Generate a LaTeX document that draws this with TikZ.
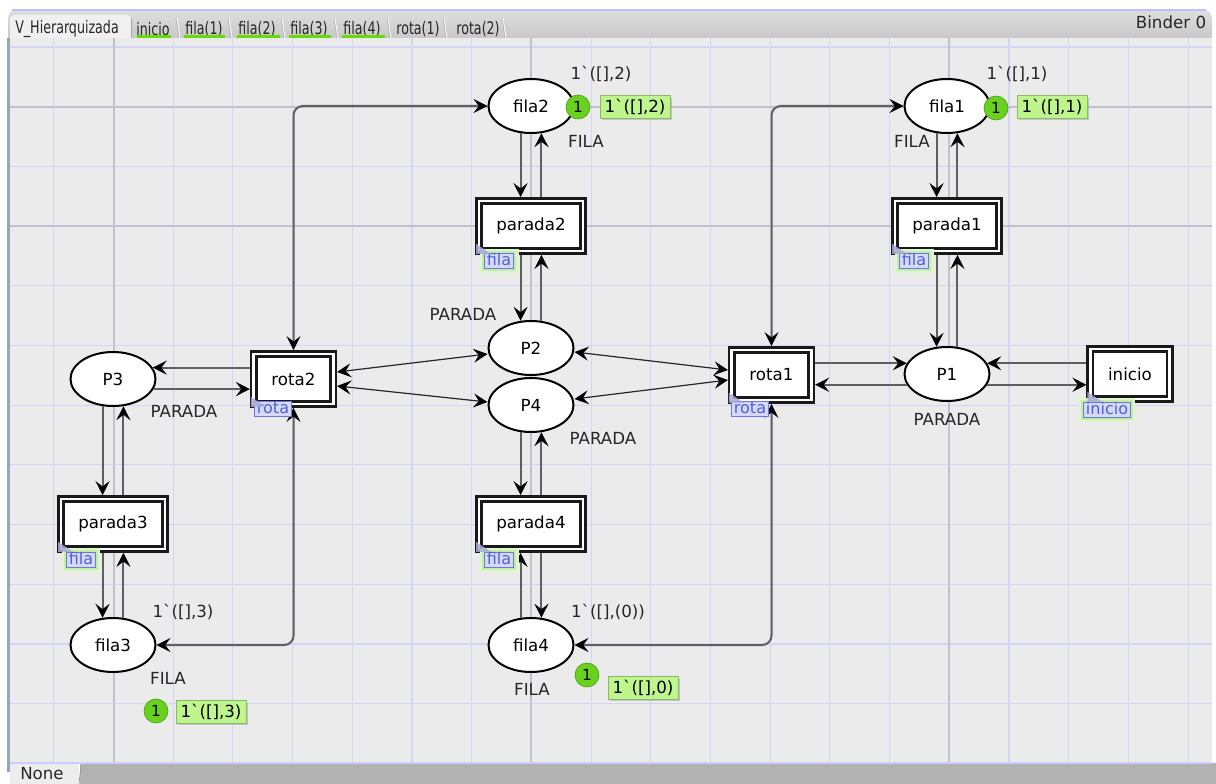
\documentclass[tikz,border=0pt]{standalone}
\usepackage{fontspec}
\setmainfont{DejaVu Sans}
\newfontfamily\dv{DejaVu Sans}
\newfontfamily\tabfont{DejaVu Sans}[FakeStretch=0.73]
\usetikzlibrary{shapes.geometric,arrows.meta,calc,shadows}
\definecolor{canvas}{RGB}{235,235,235}
\definecolor{gridc}{RGB}{212,212,246}
\definecolor{guide}{RGB}{192,192,206}
\definecolor{arcc}{RGB}{95,95,95}
\definecolor{tokg}{RGB}{105,210,30}
\definecolor{tokbox}{RGB}{190,245,140}
\definecolor{tagfill}{RGB}{214,218,250}
\definecolor{tagdraw}{RGB}{105,120,228}
\definecolor{tagtext}{RGB}{80,95,215}
\definecolor{glow}{RGB}{196,238,165}
\definecolor{corner}{RGB}{170,170,215}
\definecolor{tabtop}{RGB}{222,222,222}
\definecolor{tabbot}{RGB}{196,196,196}
\definecolor{uline}{RGB}{102,220,0}
\definecolor{leftbar}{RGB}{150,168,184}
\tikzset{
  hd/.tip={Stealth[length=10.5pt,width=10.5pt,inset=4pt,color=black]},
  nodefont/.style={font=\dv\fontsize{12.5}{14}\selectfont},
  place/.style={ellipse, draw=black, line width=1.5pt, fill=white,
    minimum width=63.75pt, minimum height=40.5pt, inner sep=0pt, nodefont},
  trans/.style={rectangle, draw=black!90, line width=1.8pt, double=white,
    double distance=2.2pt, fill=white, minimum height=37.5pt, inner sep=0pt,
    outer sep=2.9pt, nodefont},
  parada/.style={trans, minimum width=78pt},
  rota/.style={trans, minimum width=59.5pt},
  arc/.style={draw=arcc, line width=1.5pt, -hd},
  arcb/.style={draw=arcc, line width=1.5pt, hd-hd, rounded corners=7pt},
  thinarc/.style={draw=black!85, line width=0.9pt, hd-hd},
  lab/.style={nodefont, text=black!85, inner sep=0pt},
  tok/.style={circle, fill=tokg, draw=tokg!75!black, line width=0.5pt,
    minimum size=18pt, inner sep=0pt, font=\dv\fontsize{11.5}{12}\selectfont},
  tbox/.style={fill=tokbox, draw=tokbox!75!black, line width=0.4pt,
    minimum height=17pt, inner xsep=3.5pt, inner ysep=0pt, nodefont,
    drop shadow={shadow xshift=1.5pt, shadow yshift=-1.5pt, opacity=0.35}},
  tagn/.style={draw=tagdraw, fill=tagfill, text=tagtext, line width=0.8pt,
    inner xsep=2pt, inner ysep=0.5pt, text height=8.6pt, text depth=1.6pt,
    font=\dv\fontsize{12}{13}\selectfont},
  glowing/.style={preaction={draw=glow!55, line width=7pt},
    preaction={draw=glow, line width=3.5pt}},
  tabtxt/.style={font=\tabfont\fontsize{13}{15}\selectfont, text=black!85, inner sep=0pt},
}
\begin{document}
\begin{tikzpicture}[x=0.75pt,y=-0.75pt]
\useasboundingbox (0,0) rectangle (1216,784);
\fill[white] (0,0) rectangle (1216,784);
% tab bar
\shade[top color=tabtop, bottom color=tabbot, rounded corners=6pt] (8,10) rectangle (1212,44);
\draw[blue!25!white, line width=0.8pt] (12,10) -- (1206,10);
\fill[white!94!black, rounded corners=3pt] (10,15) rectangle (131,44);
\draw[black!35, line width=0.6pt] (131,38) -- (131,18);
\foreach \sx in {179,231,284,337,390,446,505} {
  \draw[black!30, line width=0.6pt] (\sx,38) -- (\sx-3,18);
  \draw[white, line width=0.6pt] (\sx+1,38) -- (\sx-2,18);
}
\node[tabtxt] (tab0) at (67,29) {V\_Hierarquizada};
\node[tabtxt] (tab1) at (153,29) {inicio};
\node[tabtxt] (tab2) at (204,29) {fila(1)};
\node[tabtxt] (tab3) at (257,29) {fila(2)};
\node[tabtxt] (tab4) at (309,29) {fila(3)};
\node[tabtxt] (tab5) at (362,29) {fila(4)};
\node[tabtxt] (tab6) at (418,29) {rota(1)};
\node[tabtxt] (tab7) at (478,29) {rota(2)};
\foreach \ua/\ub in {137/171,184/225,237/280,289/331,342/385}
  \draw[uline, line width=1.8pt] (\ua,36.5) -- (\ub,36.5);
\node[font=\dv\fontsize{12.5}{14}\selectfont, text=black!85, inner sep=0pt] (binder) at (1171,22) {Binder 0};
% canvas
\fill[canvas] (10,38) rectangle (1212,763);
\begin{scope}
\clip (10,38) rectangle (1212,763);
\foreach \k in {0,...,19}
  \draw[gridc, line width=0.8pt] ({53.8+59.7*\k},38) -- ({53.8+59.7*\k},763);
\foreach \k in {0,...,11}
  \draw[gridc, line width=0.8pt] (10,{47+59.7*\k}) -- (1212,{47+59.7*\k});
\foreach \gx in {113.5,531.4,949.3}
  \draw[guide, line width=1.5pt] (\gx,38) -- (\gx,763);
\foreach \gy in {106.7,226.1}
  \draw[guide, line width=1.5pt] (10,\gy) -- (1212,\gy);
\end{scope}
\fill[leftbar] (7,38) rectangle (10,772);
% bottom bar
\fill[black!30] (80,763) rectangle (1216,784);
\draw[blue!20!white, line width=0.8pt] (10,763) -- (1212,763);
\fill[white!93!black] (10,764) rectangle (79,784);
\draw[black!40, line width=0.6pt] (79,784) -- (81,766);
\node[font=\dv\fontsize{12.5}{14}\selectfont, text=black!85, inner sep=0pt] (none) at (42,774) {None};

% places
\node[place] (fila2) at (531,106) {fila2};
\node[place] (fila1) at (947,106) {fila1};
\node[place] (P2) at (531,348) {P2};
\node[place] (P4) at (531,405) {P4};
\node[place] (P3) at (113,379) {P3};
\node[place] (P1) at (947,374) {P1};
\node[place] (fila3) at (113,645) {fila3};
\node[place] (fila4) at (531,645) {fila4};
% transitions
\node[parada] (parada2) at (531,226) {parada2};
\node[parada] (parada1) at (947,226) {parada1};
\node[parada] (parada3) at (113,524) {parada3};
\node[parada] (parada4) at (531,524) {parada4};
\node[rota] (rota2) at (293.5,379) {rota2};
\node[rota] (rota1) at (771.5,375) {rota1};
\node[rota] (inicio) at (1130,374) {inicio};

% vertical arc pairs
\draw[arc] (fila2.-111) -- (fila2.-111 |- parada2.north);
\draw[arc] (fila2.-69 |- parada2.north) -- (fila2.-69);
\draw[arc] (P2.111 |- parada2.south) -- (P2.111);
\draw[arc] (P2.69) -- (P2.69 |- parada2.south);
\draw[arc] (fila1.-111) -- (fila1.-111 |- parada1.north);
\draw[arc] (fila1.-69 |- parada1.north) -- (fila1.-69);
\draw[arc] (P1.111 |- parada1.south) -- (P1.111);
\draw[arc] (P1.69) -- (P1.69 |- parada1.south);
\draw[arc] (P3.-111) -- (P3.-111 |- parada3.north);
\draw[arc] (P3.-69 |- parada3.north) -- (P3.-69);
\draw[arc] (fila3.111 |- parada3.south) -- (fila3.111);
\draw[arc] (fila3.69) -- (fila3.69 |- parada3.south);
\draw[arc] (P4.-111) -- (P4.-111 |- parada4.north);
\draw[arc] (P4.-69 |- parada4.north) -- (P4.-69);
\draw[arc] (fila4.111) -- (fila4.111 |- parada4.south);
\draw[arc] (fila4.69 |- parada4.south) -- (fila4.69);
% horizontal arc pairs
\draw[arc] (rota2.west |- P3.16) -- (P3.16);
\draw[arc] (P3.-14) -- (rota2.west |- P3.-14);
\draw[arc] (rota1.east |- P1.165) -- (P1.165);
\draw[arc] (P1.195) -- (rota1.east |- P1.195);
\draw[arc] (inicio.west |- P1.15) -- (P1.15);
\draw[arc] (P1.-15) -- (inicio.west |- P1.-15);
% diagonal arcs
\draw[thinarc] ([shift={(0,-7)}]rota2.east) -- ([shift={(0,6)}]P2.west);
\draw[thinarc] ([shift={(0,7)}]rota2.east) -- ([shift={(0,-3)}]P4.west);
\draw[thinarc] ([shift={(0,4)}]P2.east) -- ([shift={(0,-5)}]rota1.west);
\draw[thinarc] ([shift={(0,-6)}]P4.east) -- ([shift={(0,5)}]rota1.west);
% routed arcs
\draw[arcb] (rota2.north) |- (fila2.west);
\draw[arcb] (rota2.south) |- (fila3.east);
\draw[arcb] (rota1.north) |- (fila1.west);
\draw[arcb] (rota1.south) |- (fila4.east);

% tags
\node[tagn, glowing] (tg2) at (499,261) {fila};
\node[tagn, glowing] (tg1) at (914,261) {fila};
\node[tagn, glowing] (tg3) at (81,560) {fila};
\node[tagn, glowing] (tg4) at (499,560) {fila};
\node[tagn] (tr2) at (273,409) {rota};
\node[tagn] (tr1) at (750,409) {rota};
\node[tagn, glowing] (ti) at (1107,410) {inicio};
% folded corner marks of the substitution transitions
\foreach \t in {parada2,parada1,parada3,parada4,rota2,rota1,inicio}
  \fill[corner, opacity=0.85] ([shift={(1,-11)}]\t.south west) -- ([shift={(1,-1)}]\t.south west) -- ([shift={(16,-1)}]\t.south west) -- cycle;

% labels
\node[lab] (m2) at (601,74) {1`([],2)};
\node[lab] (m1) at (1017,74) {1`([],1)};
\node[lab] (m3) at (183,612) {1`([],3)};
\node[lab] (m4) at (608,612) {1`([],(0))};
\node[lab] (f2) at (586,141) {FILA};
\node[lab] (f1) at (912,141) {FILA};
\node[lab] (f3) at (168,678) {FILA};
\node[lab] (f4) at (532,689) {FILA};
\node[lab] (pp2) at (463,314) {PARADA};
\node[lab] (pp3) at (184,411) {PARADA};
\node[lab] (pp4) at (603,438) {PARADA};
\node[lab] (pp1) at (947,419) {PARADA};

% tokens
\node[tbox] (b2) at (635,107) {1`([],2)};
\node[tok] (t2) at (578,107) {1};
\node[tbox] (b1) at (1052,107) {1`([],1)};
\node[tok] (t1) at (996,108) {1};
\node[tbox] (b3) at (211,712) {1`([],3)};
\node[tok] (t3) at (156,711) {1};
\node[tbox] (b4) at (643,688) {1`([],0)};
\node[tok] (t4) at (587,675) {1};
\end{tikzpicture}
\end{document}
